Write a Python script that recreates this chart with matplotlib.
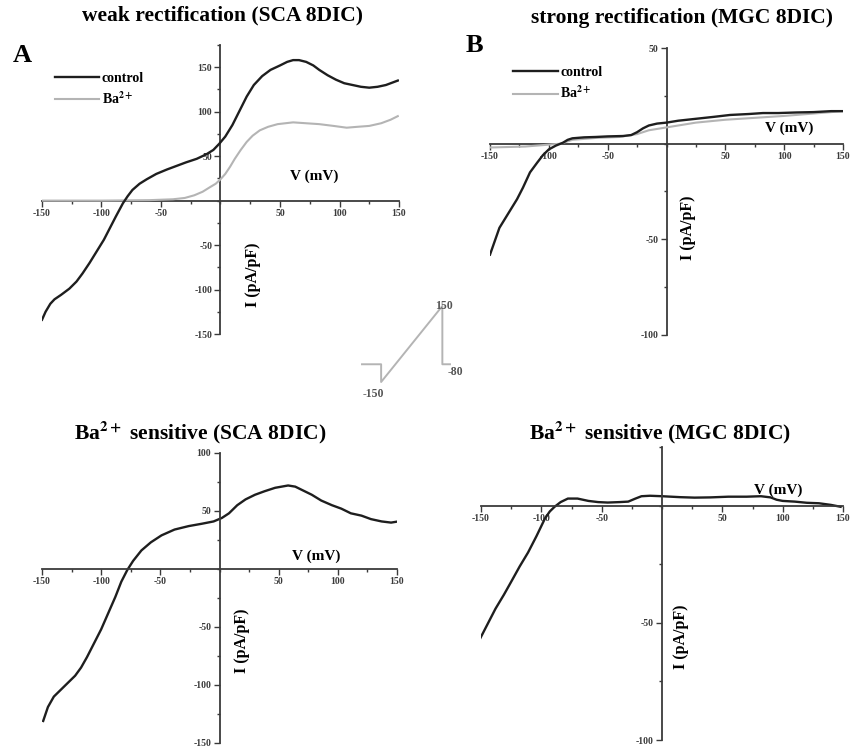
import matplotlib

matplotlib.use("Agg")
import matplotlib.pyplot as plt
from matplotlib.ticker import MultipleLocator, FixedLocator

plt.rcParams["font.family"] = ["Liberation Serif", "DejaVu Serif"]
plt.rcParams["font.weight"] = "bold"
plt.rcParams["mathtext.fontset"] = "stix"
plt.rcParams["axes.unicode_minus"] = False

# ---- data ----
# A: weak rectification (SCA 8DIC)
a_ctrl_v = [-150, -147, -143, -139.5, -134, -127, -121, -116, -110, -104, -98, -93, -88, -82, -78,
            -74, -68, -62, -54, -45, -37, -29, -20, -12, -6, -1, 4, 10, 16, 22, 28, 35, 42, 50,
            56, 61, 66, 72, 78, 83, 90, 97, 104, 111, 118, 125, 132, 139, 145, 149]
a_ctrl_i = [-134, -125, -116, -111, -106, -99, -91, -82, -70, -57, -44, -31, -18, -3, 5,
            12, 19, 24, 30, 35, 39, 43, 47, 52, 57, 64, 72, 85, 101, 117, 130, 140, 147, 152,
            156, 158, 158, 156, 152, 147, 141, 136, 132, 130, 128, 127, 128, 130, 133, 135]
a_ba_v = [-150, -100, -60, -40, -30, -22, -15, -9, -4, 0, 4, 8, 12, 17, 22, 27, 33, 40, 48,
          61, 72, 83, 95, 106, 115, 125, 135, 143, 149]
a_ba_i = [0, 0, 0.5, 1.5, 3, 6, 10, 15, 19, 24, 30, 38, 47, 57, 66, 73, 79, 83, 86,
          88, 87, 86, 84, 82, 83, 84, 87, 91, 95]

# B: strong rectification (MGC 8DIC)
b_ctrl_v = [-150, -146, -142, -135, -127, -122, -116, -110, -105, -100, -94, -88, -84, -80, -70,
            -60, -50, -37, -30, -25, -20, -15, -8, 0, 10, 25, 40, 54, 70, 82, 95, 110, 125,
            140, 150]
b_ctrl_i = [-58, -51, -44, -37, -29, -23, -15, -10, -6, -3, -1, 0.5, 2, 2.8, 3.3,
            3.5, 3.8, 4, 4.5, 6, 8, 9.5, 10.5, 11, 12, 13, 14, 15, 15.5, 16, 16, 16.3, 16.5,
            17, 17]
b_ba_v = [-150, -120, -90, -80, -60, -40, -25, -15, 0, 25, 50, 100, 150]
b_ba_i = [-2, -1.5, 0, 2, 3, 3.5, 5, 7, 8.5, 11, 12.5, 14.5, 17]

# C: Ba2+ sensitive (SCA 8DIC)
c_v = [-149, -145, -140, -134, -128, -122, -117, -112, -106, -100, -94, -88, -83, -78, -73,
       -66, -58, -49, -38, -26, -15, -5, 2, 8, 15, 22, 30, 38, 47, 58, 64, 70, 78, 86, 95,
       103, 111, 120, 128, 137, 145, 151]
c_i = [-131, -119, -110, -104, -98, -92, -85, -76, -64, -52, -38, -24, -11, -1, 7,
       16, 23, 29, 34, 37, 39, 41, 44, 48, 55, 60, 64, 67, 70, 72, 71, 68, 64, 59, 55,
       52, 48, 46, 43, 41, 40, 41]

# D: Ba2+ sensitive (MGC 8DIC)
d_v = [-151, -145, -138, -131, -125, -118, -111, -104, -97, -93, -89, -84, -78, -70, -61, -53,
       -45, -35, -28, -22, -17, -10, 0, 15, 27, 40, 55, 70, 82, 90, 95, 100, 110, 120, 130,
       140, 148]
d_i = [-57, -51, -44, -38, -32.5, -26, -20, -13, -5.5, -2.5, -0.5, 1.5, 3, 3, 2, 1.5,
       1.3, 1.5, 1.7, 3, 4, 4.2, 4, 3.6, 3.4, 3.5, 3.8, 3.8, 4, 3.5, 2.5, 2, 1.7, 1.2, 1,
       0.3, -0.5]

# voltage protocol (inset)
prot_t = [0, 1, 1, 4.2, 4.2, 4.6]
prot_v = [-80, -80, -150, 150, -80, -80]

x_ticks = [-150, -100, -50, 50, 100, 150]
GRAY = "#b4b4b4"
AX_COLOR = "#3a3a3a"
LINE = "#1e1e1e"
BA = r"Ba$^{\mathbf{2+}}$"

W, H = 850, 752
fig = plt.figure(figsize=(W / 100, H / 100), dpi=100)


def px_axes(x0, x1, ytop, ybot):
    return fig.add_axes([x0 / W, 1 - ybot / H, (x1 - x0) / W, (ybot - ytop) / H])


def style_axis(ax, ylim, yticks):
    ax.set_xlim(-150, 150)
    ax.set_ylim(*ylim)
    ax.patch.set_alpha(0)
    for s in ["top", "right"]:
        ax.spines[s].set_visible(False)
    for s in ["left", "bottom"]:
        ax.spines[s].set_position(("data", 0))
        ax.spines[s].set_color(AX_COLOR)
        ax.spines[s].set_linewidth(1.3)
    ax.xaxis.set_major_locator(FixedLocator(x_ticks))
    ax.xaxis.set_minor_locator(MultipleLocator(25))
    ax.yaxis.set_major_locator(FixedLocator(yticks))
    ax.yaxis.set_minor_locator(MultipleLocator(25))
    ax.tick_params(which="both", colors=AX_COLOR, labelsize=7, width=1.0, pad=2)
    ax.tick_params(which="major", length=4)
    ax.tick_params(which="minor", length=2)
    for lab in ax.get_xticklabels() + ax.get_yticklabels():
        lab.set_fontweight("bold")


def axis_labels(ax, vpos, ipos):
    ax.text(vpos[0], vpos[1], "V (mV)", fontsize=11, ha="center", va="center")
    ax.text(ipos[0], ipos[1], "I (pA/pF)", fontsize=11.5, rotation=90, ha="center", va="center")


# ---- A ----
axA = px_axes(42, 399, 45, 334)
axA.plot(a_ba_v, a_ba_i, color=GRAY, lw=1.5, label=BA, zorder=3)
axA.plot(a_ctrl_v, a_ctrl_i, color=LINE, lw=1.7, label="control", zorder=4)
style_axis(axA, (-150, 175), [-150, -100, -50, 50, 100, 150])
axis_labels(axA, (79, 27), (27, -83))
h, l = axA.get_legend_handles_labels()
axA.legend(h[::-1], l[::-1], loc="upper left", bbox_to_anchor=(0.0, 0.95), frameon=False,
           fontsize=10, handlelength=3.2, handletextpad=0.2, labelspacing=0.4)
fig.text(222 / W, 1 - 15 / H, "weak rectification (SCA 8DIC)", fontsize=15.5, ha="center", va="center")
fig.text(22 / W, 1 - 55 / H, "A", fontsize=19, ha="center", va="center")

# ---- B ----
axB = px_axes(490, 843, 48, 335)
axB.plot(b_ba_v, b_ba_i, color=GRAY, lw=1.5, label=BA, zorder=3)
axB.plot(b_ctrl_v, b_ctrl_i, color=LINE, lw=1.7, label="control", zorder=4)
style_axis(axB, (-100, 50), [-100, -50, 50])
axis_labels(axB, (104, 8), (18, -44))
h, l = axB.get_legend_handles_labels()
axB.legend(h[::-1], l[::-1], loc="upper left", bbox_to_anchor=(0.03, 0.98), frameon=False,
           fontsize=10, handlelength=3.2, handletextpad=0.2, labelspacing=0.4)
fig.text(682 / W, 1 - 18 / H, "strong rectification (MGC 8DIC)", fontsize=15.5, ha="center", va="center")
fig.text(474 / W, 1 - 45 / H, "B", fontsize=19, ha="center", va="center")

# ---- C ----
axC = px_axes(42, 397, 453, 743)
axC.plot(c_v, c_i, color=LINE, lw=1.7)
style_axis(axC, (-150, 100), [-150, -100, -50, 50, 100])
axis_labels(axC, (82, 11), (19, -62))
fig.text(200 / W, 1 - 432 / H, BA + " sensitive (SCA 8DIC)", fontsize=15.5, ha="center", va="center")

# ---- D ----
axD = px_axes(481, 843, 447, 740)
axD.plot(d_v, d_i, color=LINE, lw=1.7)
style_axis(axD, (-100, 25), [-100, -50])
axis_labels(axD, (96, 6.4), (16, -56))
fig.text(660 / W, 1 - 432 / H, BA + " sensitive (MGC 8DIC)", fontsize=15.5, ha="center", va="center")

# ---- voltage protocol inset ----
axP = px_axes(362, 450, 306, 382)
axP.plot(prot_t, prot_v, color=GRAY, lw=1.4, clip_on=False)
axP.set_xlim(0, 4.6)
axP.set_ylim(-150, 150)
axP.axis("off")
axP.text(4.3, 150, "150", fontsize=8.5, ha="center", va="center", color="#555555")
axP.text(4.5, -85, "-80", fontsize=8.5, ha="left", va="top", color="#555555")
axP.text(0.6, -175, "-150", fontsize=8.5, ha="center", va="top", color="#555555")

plt.savefig("out.png", dpi=100, facecolor="white")
plt.close()
